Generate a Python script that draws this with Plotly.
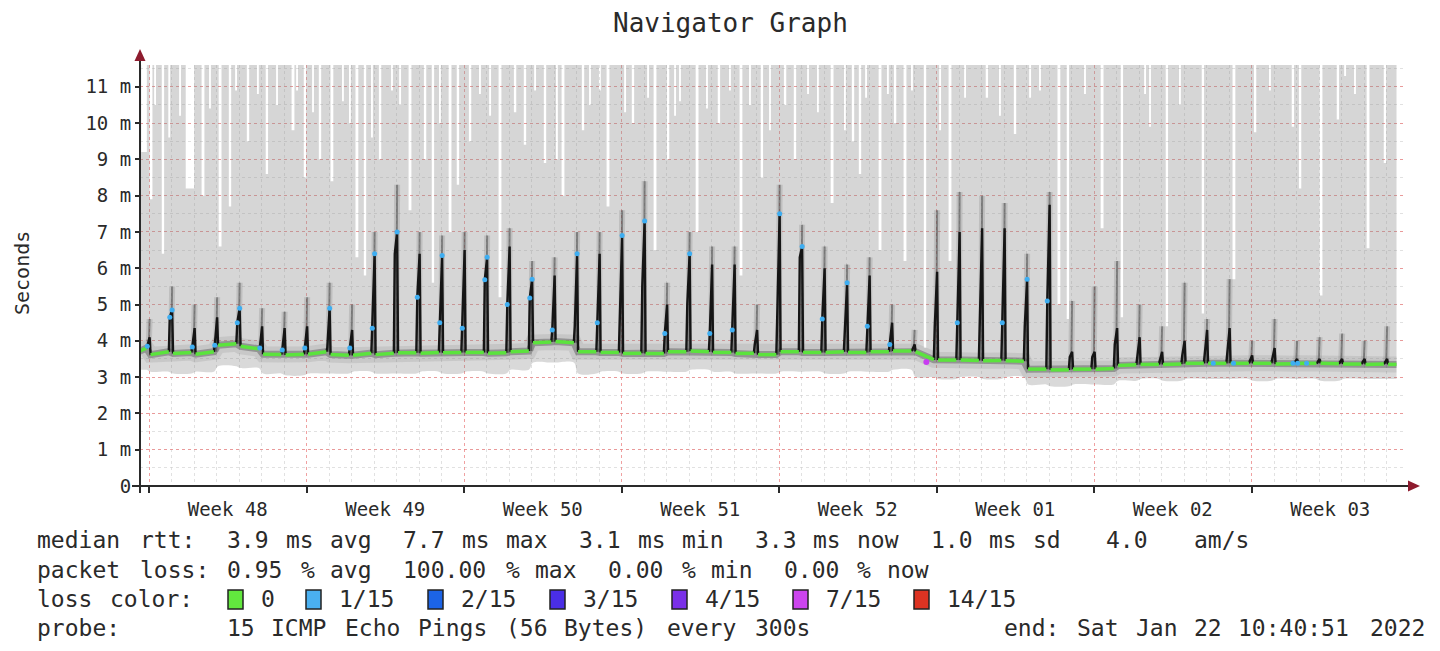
import re
import pandas as pd
import plotly.graph_objects as go

# ------------------------------------------------------------------ data
DAY0 = pd.Timestamp("2021-11-28 00:00:00")        # Sunday, first week boundary
T_START = pd.Timestamp("2021-11-27 14:24:00")
T_END = pd.Timestamp("2022-01-22 10:40:51")
T_AXIS_END = pd.Timestamp("2022-01-22 19:44:00")
Y_TOP = 11.6

y_tick_vals = [0, 1, 2, 3, 4, 5, 6, 7, 8, 9, 10, 11]
y_tick_text = ["0", "1 m", "2 m", "3 m", "4 m", "5 m", "6 m", "7 m", "8 m", "9 m", "10 m", "11 m"]

# daily spikes (one per day, shortly after midnight), values in ms
spike_days = list(range(56))
spike_pre = [3.85, 4.65, 3.83, 3.88, 4.5, 3.8, 3.75, 3.8, 3.8, 3.8,
             4.35, 6.4, 5.2, 4.5, 4.35, 5.68, 5.0, 5.18, 4.3, 4.4,
             4.5, 4.8, 5.5, 4.2, 5.0, 4.2, 4.3, 3.9, 5.0, 6.3,
             4.6, 4.3, 4.4, 3.9, 3.75, 4.4, 4.5, 4.5, 4.5, 4.4,
             5.1, 3.55, 3.55, 3.9, 3.6, 3.45, 3.6, 3.7, 3.7, 3.45,
             3.5, 3.4, 3.4, 3.4, 3.4, 3.4]
spike_peak = [4.1, 4.85, 4.35, 4.65, 4.9, 4.4, 4.35, 4.4, 4.9, 4.3,
              6.4, 7.0, 6.4, 6.35, 6.5, 6.3, 6.6, 5.7, 5.8, 6.4,
              6.4, 6.9, 7.3, 5.0, 6.4, 6.1, 6.1, 4.3, 7.5, 6.6,
              6.0, 5.6, 5.8, 4.5, 3.9, 5.9, 7.0, 7.1, 7.1, 5.7,
              7.75, 3.7, 3.7, 4.35, 4.1, 3.7, 4.0, 4.3, 4.35, 3.6,
              3.8, 3.5, 3.5, 3.5, 3.5, 3.5]
spike_smoke = [4.6, 5.5, 5.0, 5.2, 5.6, 4.9, 4.8, 5.2, 5.6, 5.0,
               7.0, 8.3, 7.0, 6.9, 7.0, 6.9, 7.1, 6.2, 6.3, 7.0,
               7.0, 7.6, 8.4, 5.6, 7.0, 6.6, 6.6, 5.0, 8.3, 7.2,
               6.6, 6.1, 6.3, 5.0, 4.3, 7.6, 8.1, 8.0, 7.8, 6.4,
               8.1, 5.1, 5.5, 6.2, 5.0, 4.4, 5.6, 4.6, 5.7, 4.0,
               4.6, 4.0, 4.1, 4.2, 4.0, 4.4]

# median rtt between spikes (57 segments): start / end value, lower smoke edge
seg_start = [3.72, 3.62, 3.65, 3.63, 3.88, 3.85, 3.63, 3.61, 3.63, 3.62,
             3.60, 3.62, 3.67, 3.66, 3.67, 3.68, 3.66, 3.70, 3.95, 3.98,
             3.70, 3.68, 3.65, 3.65, 3.70, 3.72, 3.68, 3.65, 3.62, 3.70,
             3.68, 3.68, 3.68, 3.70, 3.72, 3.70, 3.47, 3.47, 3.45, 3.45,
             3.22, 3.20, 3.22, 3.22, 3.32, 3.35, 3.35, 3.38, 3.38, 3.38,
             3.38, 3.36, 3.38, 3.38, 3.36, 3.35, 3.35]
seg_end = [3.80, 3.70, 3.68, 3.70, 3.92, 3.78, 3.62, 3.63, 3.70, 3.60,
           3.66, 3.66, 3.67, 3.68, 3.68, 3.68, 3.67, 3.72, 3.97, 3.95,
           3.70, 3.68, 3.66, 3.65, 3.70, 3.70, 3.68, 3.66, 3.62, 3.70,
           3.68, 3.70, 3.68, 3.70, 3.72, 3.48, 3.47, 3.46, 3.46, 3.44,
           3.22, 3.20, 3.22, 3.24, 3.34, 3.35, 3.36, 3.38, 3.38, 3.38,
           3.38, 3.37, 3.38, 3.37, 3.36, 3.36, 3.35]
seg_low = [3.20, 3.15, 3.10, 3.15, 3.30, 3.25, 3.10, 3.05, 3.10, 3.10,
           3.15, 3.10, 3.10, 3.15, 3.10, 3.15, 3.10, 3.20, 3.40, 3.40,
           3.10, 3.15, 3.10, 3.15, 3.15, 3.20, 3.15, 3.10, 3.10, 3.15,
           3.15, 3.10, 3.15, 3.15, 3.20, 3.00, 2.95, 3.00, 2.95, 3.00,
           2.80, 2.75, 2.80, 2.80, 2.90, 2.95, 2.90, 2.95, 2.95, 2.95,
           2.90, 2.95, 2.95, 2.90, 2.95, 2.95, 2.95]

# periods where the highest ping stayed below the top (white streaks in the smoke)
gap_day = [-0.22, 0.09, 0.27, 0.62, 0.90, 1.38, 1.82, 2.40, 2.71, 3.16,
           3.60, 3.87, 4.40, 4.84, 5.24, 5.69, 6.40, 6.58, 6.93, 7.29,
           7.60, 8.13, 8.62, 8.93, 9.24, 9.60, 9.91, 10.27, 10.80, 11.16,
           11.60, 12.27, 12.62, 12.93, 13.38, 13.73, 14.27, 14.71, 15.16, 15.60,
           16.27, 16.71, 17.16, 17.60, 18.13, 18.40, 19.29, 19.60, 20.04, 20.40,
           21.16, 21.51, 22.18, 22.49, 23.07, 23.38, 23.60, 24.36, 24.80, 25.33,
           25.82, 26.31, 26.71, 27.24, 27.60, 28.27, 28.71, 29.29, 29.73, 30.36,
           30.93, 31.29, 31.60, 31.87, 32.49, 32.84, 33.16, 33.60, 33.91, 34.49,
           35.16, 35.60, 36.27, 37.24, 37.82, 38.49, 39.16, 39.60, 40.44, 40.84,
           41.60, 42.36, 43.24, 44.27, 44.49, 45.24, 45.82, 46.84, 48.22, 49.16,
           49.82, 50.84, 51.16, 52.09, 52.84, 53.16, 53.60, 54.18, 54.93]
gap_bottom = [9.2, 7.9, 10.5, 6.4, 9.6, 10.2, 8.2, 8.0, 10.4, 6.6,
              7.7, 10.9, 9.5, 10.8, 8.6, 10.5, 9.8, 10.9, 8.5, 10.3,
              9.0, 8.4, 10.6, 10.0, 6.3, 5.8, 9.6, 9.0, 10.9, 10.5,
              7.6, 9.0, 5.6, 10.0, 7.0, 8.3, 9.5, 10.8, 10.2, 5.2,
              10.3, 9.4, 10.9, 8.9, 9.0, 8.0, 9.8, 10.5, 10.9, 7.7,
              10.3, 10.0, 10.7, 6.5, 9.0, 10.2, 10.6, 7.0, 10.4, 10.0,
              10.9, 5.8, 10.5, 8.5, 9.8, 10.5, 9.0, 10.8, 10.3, 7.8,
              9.8, 9.5, 8.6, 10.7, 6.5, 10.8, 10.0, 6.2, 10.9, 3.8,
              9.8, 6.2, 10.7, 10.7, 10.2, 9.7, 10.7, 10.9, 5.0, 4.6,
              10.8, 7.1, 4.65, 10.8, 9.9, 4.4, 10.5, 4.75, 5.7, 9.75,
              10.9, 9.9, 8.2, 5.25, 10.1, 11.3, 10.8, 6.55, 8.9]
gap_hours = [6.0, 3.0, 2.0, 2.5, 2.0, 2.0, 9.0, 3.0, 2.0, 3.0,
             2.5, 2.0, 2.5, 2.0, 2.5, 2.0, 3.0, 2.0, 2.5, 2.0,
             2.5, 3.0, 2.0, 2.0, 3.0, 2.5, 2.0, 2.5, 2.0, 2.0,
             3.0, 2.5, 2.5, 2.0, 3.0, 2.5, 2.5, 2.0, 2.0, 3.0,
             2.5, 2.5, 2.0, 2.5, 2.0, 3.0, 2.5, 2.0, 2.0, 3.0,
             2.0, 2.5, 2.0, 3.0, 2.5, 2.0, 2.0, 3.0, 2.0, 2.5,
             2.0, 3.0, 2.0, 2.5, 2.0, 2.5, 2.5, 2.0, 2.0, 3.0,
             2.0, 2.5, 2.5, 2.0, 3.0, 2.0, 2.5, 3.0, 2.0, 2.5,
             2.0, 3.0, 2.0, 2.5, 2.0, 2.5, 2.0, 2.0, 3.0, 2.5,
             2.0, 3.0, 2.5, 2.0, 2.0, 2.5, 2.0, 2.5, 3.0, 2.5,
             2.0, 2.5, 2.5, 3.0, 2.5, 2.0, 2.0, 3.0, 2.5]

# packet loss markers on the median line
blue_pre_days = [0, 1, 2, 3, 4, 5, 6, 7, 9, 10, 12, 13, 14, 15, 16, 17, 18, 20,
                 23, 25, 26, 30, 32, 33, 36, 38, 40]
blue_peak_days = [1, 4, 8, 10, 11, 13, 15, 17, 19, 21, 22, 24, 28, 29, 31, 39]
blue_extra_day = [47.3, 48.2, 50.84, 51.05, 51.45]
blue_extra_val = [3.38, 3.38, 3.38, 3.38, 3.38]
purple_day = [34.55]
purple_val = [3.42]

legend_labels = ["0", "1/15", "2/15", "3/15", "4/15", "7/15", "14/15"]
legend_colors = ["#62e83e", "#4ab0f0", "#1c64e6", "#4a2ee6", "#7a30e8", "#cc44ee", "#dd3322"]

text_lines = [
    "median rtt:  3.9 ms avg  7.7 ms max  3.1 ms min  3.3 ms now  1.0 ms sd   4.0   am/s",
    "packet loss: 0.95 % avg  100.00 % max  0.00 % min  0.00 % now",
    "loss color:",
    "probe:       15 ICMP Echo Pings (56 Bytes) every 300s",
]
end_text = "end: Sat Jan 22 10:40:51 2022"

# ------------------------------------------------------------------ build
H = lambda h: pd.Timedelta(hours=h)
spike_t = [DAY0 + pd.Timedelta(days=d, minutes=40) for d in spike_days]
bounds = [T_START] + spike_t + [T_END]

med_x, med_y, grn_x, grn_y, low_x, low_y = [], [], [], [], [], []
for k in range(len(seg_start)):
    a = bounds[k] + (H(1) if k > 0 else H(0))
    b = bounds[k + 1] - (H(3.5) if k < len(seg_start) - 1 else H(0))
    med_x += [a, b]
    med_y += [seg_start[k], seg_end[k]]
    grn_x += [a, b, None]
    grn_y += [seg_start[k], seg_end[k], None]
    low_x += [a, b]
    low_y += [seg_low[k], seg_low[k]]

top_x, top_y = [T_START], [Y_TOP]
for d, b, h in sorted(zip(gap_day, gap_bottom, gap_hours)):
    c = DAY0 + pd.Timedelta(days=d)
    top_x += [c - H(h / 2), c - H(h / 2), c + H(h / 2), c + H(h / 2)]
    top_y += [Y_TOP, b, b, Y_TOP]
top_x.append(T_END)
top_y.append(Y_TOP)

sp_x, sp_y, halo_x, halo_y = [], [], [], []
for d in spike_days:
    tp = spike_t[d]
    sp_x += [tp - H(3.5), tp - H(2.5), tp, tp + H(1), None]
    sp_y += [seg_end[d], spike_pre[d], spike_peak[d], seg_start[d + 1], None]
    halo_x += [tp - H(1), tp, None]
    halo_y += [seg_end[d], spike_smoke[d], None]

blue_x = [spike_t[d] - H(2.5) for d in blue_pre_days] + [spike_t[d] for d in blue_peak_days] + \
         [DAY0 + pd.Timedelta(days=v) for v in blue_extra_day]
blue_y = [spike_pre[d] for d in blue_pre_days] + [spike_peak[d] for d in blue_peak_days] + blue_extra_val

fig = go.Figure()
nohover = dict(hoverinfo="skip", showlegend=False)
fig.add_trace(go.Scatter(x=med_x, y=med_y, mode="lines", line=dict(width=0), **nohover))
fig.add_trace(go.Scatter(x=top_x, y=top_y, mode="lines", line=dict(width=0), fill="tonexty",
                         fillcolor="rgba(140,140,140,0.36)", **nohover))
fig.add_trace(go.Scatter(x=low_x, y=low_y, mode="lines", line=dict(width=0, shape="spline"), **nohover))
fig.add_trace(go.Scatter(x=med_x, y=med_y, mode="lines", line=dict(width=0), fill="tonexty",
                         fillcolor="rgba(120,120,120,0.28)", **nohover))
# smoke band around the median
fig.add_trace(go.Scatter(x=med_x, y=med_y, mode="lines",
                         line=dict(width=16, color="rgba(140,140,140,0.22)"), **nohover))
fig.add_trace(go.Scatter(x=med_x, y=med_y, mode="lines",
                         line=dict(width=7, color="rgba(70,70,70,0.40)"), **nohover))
# spike smoke
fig.add_trace(go.Scatter(x=halo_x, y=halo_y, mode="lines",
                         line=dict(width=6, color="rgba(110,110,110,0.22)"), **nohover))
fig.add_trace(go.Scatter(x=halo_x, y=halo_y, mode="lines",
                         line=dict(width=2, color="rgba(50,50,50,0.45)"), **nohover))
fig.add_trace(go.Scatter(x=sp_x, y=sp_y, mode="lines",
                         line=dict(width=2.4, color="#151515"), **nohover))
# median line
fig.add_trace(go.Scatter(x=grn_x, y=grn_y, mode="lines",
                         line=dict(width=3.5, color="#5be33d"), **nohover))
fig.add_trace(go.Scatter(x=blue_x, y=blue_y, mode="markers",
                         marker=dict(size=5, color="#3eaef2"), **nohover))
fig.add_trace(go.Scatter(x=[DAY0 + pd.Timedelta(days=v) for v in purple_day], y=purple_val,
                         mode="markers", marker=dict(size=6, color="#c83cf0"), **nohover))

# ------------------------------------------------------------------ layout
L, R, T, B = 140, 1405, 65, 486
X = lambda px: (px - L) / (R - L)
Y = lambda py: (B - py) / (B - T)
FONT = "DejaVu Sans Mono"
TXT = "#2a2a2a"

shapes = [
    dict(type="line", xref="paper", yref="paper", x0=X(132), x1=X(1410), y0=Y(486), y1=Y(486),
         line=dict(color="#2a2a2a", width=2), layer="above"),
    dict(type="line", xref="paper", yref="paper", x0=X(140), x1=X(140), y0=Y(493), y1=Y(58),
         line=dict(color="#2a2a2a", width=2), layer="above"),
    dict(type="path", xref="paper", yref="paper",
         path=f"M {X(140)} {Y(49)} L {X(134.5)} {Y(61)} L {X(145.5)} {Y(61)} Z",
         fillcolor="#8e1b2e", line=dict(width=0), layer="above"),
    dict(type="path", xref="paper", yref="paper",
         path=f"M {X(1420)} {Y(486)} L {X(1408)} {Y(480.5)} L {X(1408)} {Y(491.5)} Z",
         fillcolor="#8e1b2e", line=dict(width=0), layer="above"),
]

annotations = [
    dict(text="Navigator Graph", x=X(730), y=Y(23), xref="paper", yref="paper", showarrow=False,
         xanchor="center", yanchor="middle", font=dict(family=FONT, size=26, color=TXT)),
    dict(text="Seconds", x=X(22), y=Y(273), xref="paper", yref="paper", showarrow=False,
         textangle=-90, xanchor="center", yanchor="middle", font=dict(family=FONT, size=20, color=TXT)),
]

CW = 14.65
row_y = [540, 570, 599, 628]
for line, ry in zip(text_lines, row_y):
    for m in re.finditer(r"\S+", line):
        annotations.append(dict(text=m.group(0), x=X(35 + m.start() * CW), y=Y(ry), xref="paper",
                                yref="paper", showarrow=False, xanchor="left", yanchor="middle",
                                font=dict(family=FONT, size=23, color=TXT)))
for m in re.finditer(r"\S+", end_text):
    annotations.append(dict(text=m.group(0), x=X(1002 + m.start() * CW), y=Y(row_y[3]), xref="paper",
                            yref="paper", showarrow=False, xanchor="left", yanchor="middle",
                            font=dict(family=FONT, size=23, color=TXT)))

box_left = [228, 306, 428, 550, 672, 793, 914]
for lab, col, bx in zip(legend_labels, legend_colors, box_left):
    shapes.append(dict(type="rect", xref="paper", yref="paper", x0=X(bx), x1=X(bx + 15),
                       y0=Y(609), y1=Y(590), fillcolor=col, line=dict(color="#222222", width=1.5)))
    annotations.append(dict(text=lab, x=X(bx + 31), y=Y(row_y[2]), xref="paper", yref="paper",
                            showarrow=False, xanchor="left", yanchor="middle",
                            font=dict(family=FONT, size=23, color=TXT)))

fig.update_layout(
    width=1440, height=651,
    margin=dict(l=L, r=1440 - R, t=T, b=651 - B, pad=0),
    paper_bgcolor="white", plot_bgcolor="white",
    showlegend=False, shapes=shapes, annotations=annotations,
    xaxis=dict(
        type="date", range=[T_START, T_AXIS_END], tick0=DAY0, dtick=7 * 86400000,
        tickformat="Week %U", ticklabelmode="period",
        showgrid=True, gridcolor="rgba(235,130,130,0.75)", griddash="dot", gridwidth=1,
        minor=dict(tick0=DAY0, dtick=86400000, showgrid=True, gridcolor="rgba(205,205,205,0.6)",
                   griddash="dot", gridwidth=1),
        ticks="outside", ticklen=6, tickcolor="#2a2a2a", tickwidth=1.5,
        tickfont=dict(family=FONT, size=19, color=TXT),
        zeroline=False, showline=False, fixedrange=True,
    ),
    yaxis=dict(
        range=[0, Y_TOP], tickmode="array", tickvals=y_tick_vals, ticktext=y_tick_text,
        showgrid=True, gridcolor="rgba(235,130,130,0.75)", griddash="dot", gridwidth=1,
        minor=dict(dtick=0.5, showgrid=True, gridcolor="rgba(205,205,205,0.6)",
                   griddash="dot", gridwidth=1),
        ticks="outside", ticklen=4, tickcolor="#2a2a2a", tickwidth=1.5,
        tickfont=dict(family=FONT, size=19, color=TXT),
        zeroline=False, showline=False, fixedrange=True,
    ),
)

fig.write_html("out.html")
